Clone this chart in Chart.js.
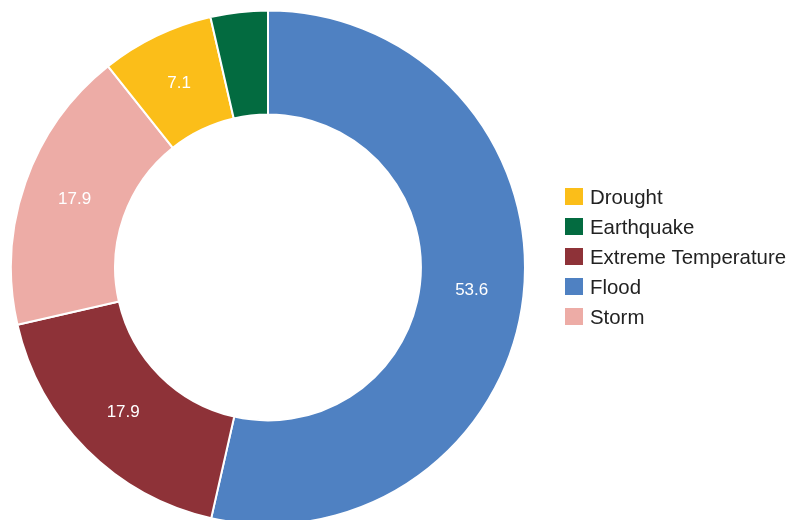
<!DOCTYPE html>
<html>
<head>
<meta charset="utf-8">
<script src="https://cdn.jsdelivr.net/npm/chart.js@4/dist/chart.umd.min.js"></script>
<style>
  html, body { margin: 0; padding: 0; background: #fff; }
  #wrap { width: 789px; height: 520px; }
</style>
</head>
<body>
<div id="wrap"><canvas id="chart" width="789" height="520"></canvas></div>
<script>
// slices in drawing order, clockwise from 12 o'clock
const categories = ['Flood', 'Extreme Temperature', 'Storm', 'Drought', 'Earthquake'];
const shares = [53.6, 17.9, 17.9, 7.1, 3.6];
const colors = ['#4f81c2', '#8e3238', '#edaca6', '#fbbe19', '#036b40'];

// slice value labels (white, inside ring)
const sliceLabels = {
    id: 'sliceLabels',
    afterDatasetsDraw(chart) {
        const ctx = chart.ctx;
        const meta = chart.getDatasetMeta(0);
        ctx.save();
        ctx.fillStyle = '#ffffff';
        ctx.font = '17px "Liberation Sans", Arial, sans-serif';
        ctx.textAlign = 'center';
        ctx.textBaseline = 'middle';
        meta.data.forEach((arc, i) => {
            const v = shares[i];
            if (v < 5) return;
            const p = arc.tooltipPosition();
            ctx.fillText(v.toFixed(1), p.x, p.y);
        });
        ctx.restore();
    }
};

// legend on the right, sorted alphabetically
const sideLegend = {
    id: 'sideLegend',
    afterDraw(chart) {
        const ctx = chart.ctx;
        const order = categories.map((c, i) => i)
            .sort((a, b) => categories[a].localeCompare(categories[b]));
        ctx.save();
        ctx.font = '20.4px "Liberation Sans", Arial, sans-serif';
        ctx.textBaseline = 'middle';
        ctx.textAlign = 'left';
        order.forEach((idx, row) => {
            const y = 197 + row * 30;
            ctx.fillStyle = colors[idx];
            ctx.fillRect(565, y - 9, 18, 17);
            ctx.fillStyle = '#222222';
            ctx.fillText(categories[idx], 590, y + 1);
        });
        ctx.restore();
    }
};

new Chart(document.getElementById('chart'), {
    type: 'doughnut',
    data: {
        labels: categories,
        datasets: [{
            data: shares,
            backgroundColor: colors,
            borderColor: '#ffffff',
            borderWidth: 2,
        }]
    },
    options: {
        responsive: false,
        animation: false,
        radius: 257,
        cutout: '59.5%',
        layout: {
            padding: { left: 0, right: 253, top: 15, bottom: 0 }
        },
        plugins: {
            legend: { display: false },
            tooltip: { enabled: false },
        }
    },
    plugins: [sliceLabels, sideLegend]
});
</script>
</body>
</html>
